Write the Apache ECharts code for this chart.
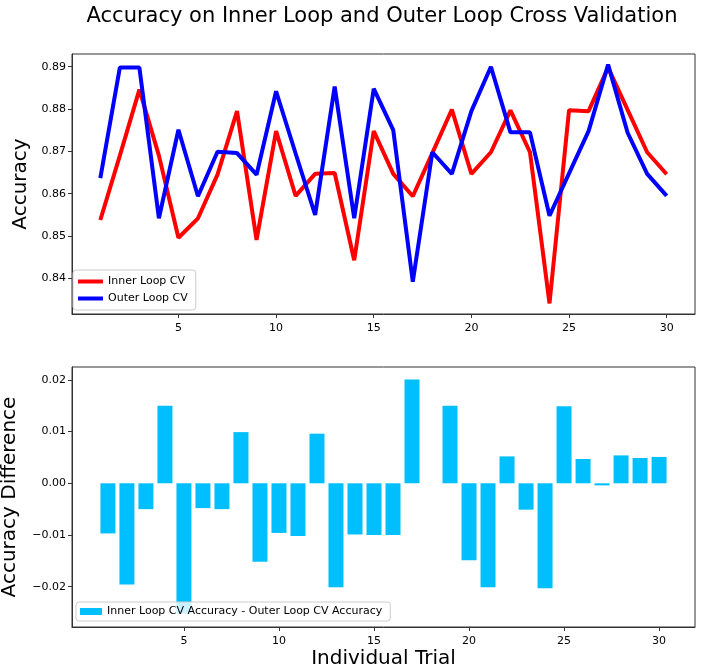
<!DOCTYPE html>
<html>
<head>
<meta charset="utf-8">
<script src="https://cdn.jsdelivr.net/npm/echarts@6/dist/echarts.min.js"></script>
<style>
  html, body { margin: 0; padding: 0; background: #fff; }
  #main { width: 702px; height: 672px; }
</style>
</head>
<body>
<div id="main"></div>
<script>
// trials 1..30
var trials = [];
for (var t = 1; t <= 30; t++) trials.push(t);

var innerCV = [0.8538, 0.8690, 0.8846, 0.8690, 0.8496, 0.8542, 0.8645, 0.8795, 0.8491, 0.8748,
               0.8595, 0.8647, 0.8649, 0.8443, 0.8748, 0.8647, 0.8594, 0.8696, 0.8799, 0.8647,
               0.8698, 0.8797, 0.8698, 0.8341, 0.8797, 0.8795, 0.8898, 0.8798, 0.8698, 0.8646];
var outerCV = [0.8637, 0.8898, 0.8898, 0.8542, 0.8751, 0.8594, 0.8699, 0.8696, 0.8645, 0.8842,
               0.8695, 0.8550, 0.8853, 0.8542, 0.8848, 0.8750, 0.8392, 0.8698, 0.8647, 0.8795,
               0.8900, 0.8745, 0.8745, 0.8548, 0.8648, 0.8748, 0.8905, 0.8744, 0.8647, 0.8595];
var accDiff = [-0.0097, -0.0196, -0.0050, 0.0150, -0.0252, -0.0048, -0.0050, 0.0099, -0.0152, -0.0096,
               -0.0102, 0.0096, -0.0201, -0.0099, -0.0100, -0.0100, 0.0201, 0.0000, 0.0150, -0.0149,
               -0.0201, 0.0052, -0.0051, -0.0203, 0.0149, 0.0047, -0.0004, 0.0054, 0.0049, 0.0051];

var xTicks = [5, 10, 15, 20, 25, 30];
var accTicks = [0.84, 0.85, 0.86, 0.87, 0.88, 0.89];
var diffTicks = [-0.02, -0.01, 0.00, 0.01, 0.02];

function pairs(vals) {
    var d = [];
    for (var i = 0; i < trials.length; i++) d.push([trials[i], vals[i]]);
    return d;
}

var FONT = 'DejaVu Sans';
var axisCol = '#333';

function valueAxis(idx, min, max, ticks, fmt, extra) {
    var ax = {
        type: 'value',
        gridIndex: idx,
        min: min,
        max: max,
        splitLine: { show: false },
        axisLine: { show: true, onZero: false, lineStyle: { color: axisCol, width: 1 } },
        axisTick: { show: true, length: 4, lineStyle: { color: axisCol }, customValues: ticks },
        axisLabel: {
            color: '#000', fontFamily: FONT, fontSize: 11, margin: 6,
            customValues: ticks, formatter: fmt
        }
    };
    for (var k in extra) ax[k] = extra[k];
    return ax;
}

var myChart = echarts.init(document.getElementById('main'));

var xLabel = {
    color: '#000', fontFamily: FONT, fontSize: 11, margin: 9,
    customValues: xTicks, formatter: function (v) { return String(v); }
};

var option = {
    backgroundColor: '#fff',
    animation: false,
    title: {
        text: 'Accuracy on Inner Loop and Outer Loop Cross Validation',
        left: 377,
        top: 1,
        textAlign: 'center',
        textStyle: { fontFamily: FONT, fontSize: 21, fontWeight: 'normal', color: '#000' }
    },
    grid: [
        { left: 72, top: 54, right: 7, height: 260, show: true, borderColor: axisCol, borderWidth: 1,
          outerBoundsMode: 'none', containLabel: false },
        { left: 72, top: 367, right: 7, height: 260, show: true, borderColor: axisCol, borderWidth: 1,
          outerBoundsMode: 'none', containLabel: false }
    ],
    legend: [
        {
            data: ['Inner Loop CV', 'Outer Loop CV'],
            orient: 'vertical',
            left: 73, top: 270,
            icon: 'rect',
            itemWidth: 25, itemHeight: 4, itemGap: 4,
            padding: [5, 8, 5, 5],
            borderColor: '#ccc', borderWidth: 1, borderRadius: 3,
            backgroundColor: 'rgba(255,255,255,0.8)',
            textStyle: { fontFamily: FONT, fontSize: 11, color: '#000', lineHeight: 13 }
        },
        {
            data: ['Inner Loop CV Accuracy - Outer Loop CV Accuracy'],
            left: 76, top: 602,
            icon: 'rect',
            itemWidth: 22, itemHeight: 7,
            padding: [3, 8, 3, 4],
            borderColor: '#ccc', borderWidth: 1, borderRadius: 3,
            backgroundColor: 'rgba(255,255,255,0.8)',
            textStyle: { fontFamily: FONT, fontSize: 11, color: '#000', lineHeight: 13 }
        }
    ],
    xAxis: [
        valueAxis(0, -0.45, 31.45, xTicks, null, { axisLabel: xLabel }),
        valueAxis(1, -0.89, 31.89, xTicks, null, {
            axisLabel: xLabel,
            name: 'Individual Trial',
            nameLocation: 'middle',
            nameGap: 22,
            nameTextStyle: { fontFamily: FONT, fontSize: 20, color: '#000' }
        })
    ],
    yAxis: [
        valueAxis(0, 0.8316, 0.8930, accTicks, function (v) { return v.toFixed(2); }, {
            name: 'Accuracy',
            nameLocation: 'middle',
            nameGap: 38,
            nameTextStyle: { fontFamily: FONT, fontSize: 20, color: '#000' }
        }),
        valueAxis(1, -0.0278, 0.0225, diffTicks, function (v) {
            var s = Math.abs(v).toFixed(2);
            return v < -1e-9 ? '\u2212' + s : s;
        }, {
            name: 'Accuracy Difference',
            nameLocation: 'middle',
            nameGap: 52,
            nameTextStyle: { fontFamily: FONT, fontSize: 20, color: '#000' }
        })
    ],
    series: [
        {
            name: 'Inner Loop CV',
            type: 'line',
            xAxisIndex: 0, yAxisIndex: 0,
            data: pairs(innerCV),
            showSymbol: false,
            itemStyle: { color: '#ff0000' },
            lineStyle: { color: '#ff0000', width: 4 }
        },
        {
            name: 'Outer Loop CV',
            type: 'line',
            xAxisIndex: 0, yAxisIndex: 0,
            data: pairs(outerCV),
            showSymbol: false,
            itemStyle: { color: '#0000ff' },
            lineStyle: { color: '#0000ff', width: 4 }
        },
        {
            name: 'Inner Loop CV Accuracy - Outer Loop CV Accuracy',
            type: 'bar',
            xAxisIndex: 1, yAxisIndex: 1,
            data: pairs(accDiff),
            barWidth: 15,
            itemStyle: { color: '#00bfff' }
        }
    ]
};
myChart.setOption(option);
</script>
</body>
</html>
